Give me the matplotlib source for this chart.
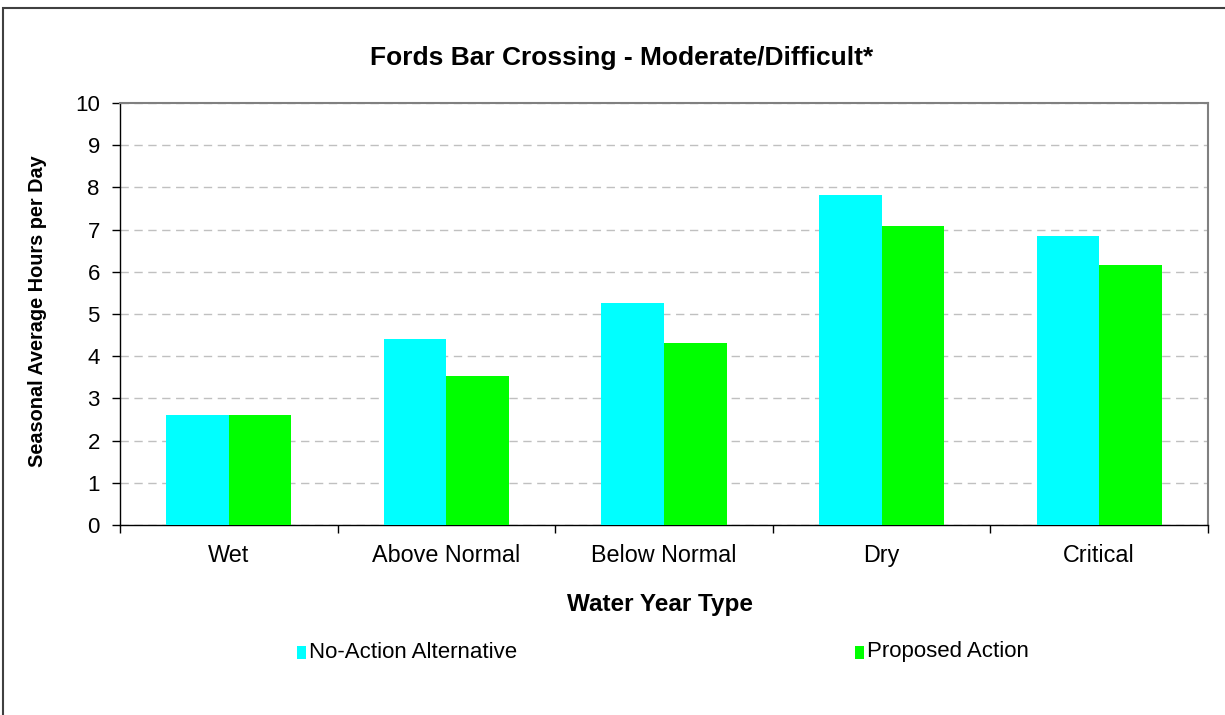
import matplotlib
matplotlib.use("Agg")
import matplotlib.pyplot as plt
import numpy as np
from matplotlib.patches import Rectangle

categories = ["Wet", "Above Normal", "Below Normal", "Dry", "Critical"]
no_action = [2.61, 4.41, 5.26, 7.82, 6.85]
proposed = [2.61, 3.53, 4.31, 7.08, 6.16]
series_names = ["No-Action Alternative", "Proposed Action"]
colors = ["#00FFFF", "#00FF00"]

plt.rcParams['font.family'] = ['Liberation Sans', 'DejaVu Sans']

W, H = 1225, 715
fig = plt.figure(figsize=(W / 100, H / 100), dpi=100)
ax = fig.add_axes([120 / W, 1 - 525 / H, (1208 - 120) / W, (525 - 103) / H])

x = np.arange(len(categories))
bw = 0.2875
ax.bar(x - bw / 2, no_action, bw, color=colors[0], label=series_names[0], zorder=3)
ax.bar(x + bw / 2, proposed, bw, color=colors[1], label=series_names[1], zorder=3)

ax.set_xlim(-0.5, len(categories) - 0.5)
ax.set_ylim(0, 10)
ax.set_yticks(range(0, 11))
ax.set_xticks(x)
ax.set_xticklabels(categories, fontsize=16.8)
ax.set_xticks(np.arange(-0.5, len(categories)), minor=True)
ax.tick_params(axis='x', which='major', length=0, pad=14)
ax.tick_params(axis='x', which='minor', length=6, width=1, direction='out')
ax.tick_params(axis='y', labelsize=16, length=6, width=1, direction='out', pad=8.5)

ax.yaxis.grid(True, linestyle=(0, (6, 4)), color='#c0c0c0', linewidth=1, zorder=0)
ax.set_axisbelow(True)
for s in ['left', 'bottom']:
    ax.spines[s].set_color('black')
    ax.spines[s].set_linewidth(1)
for s in ['top', 'right']:
    ax.spines[s].set_color('#808080')
    ax.spines[s].set_linewidth(1.5)

fig.text(622 / W, 1 - 58 / H, "Fords Bar Crossing - Moderate/Difficult*",
         ha='center', va='center', fontsize=19, fontweight='bold')
fig.text(38 / W, 1 - 311 / H, "Seasonal Average Hours per Day", rotation=90,
         ha='center', va='center', fontsize=14.3, fontweight='bold')
fig.text(660 / W, 1 - 604 / H, "Water Year Type",
         ha='center', va='center', fontsize=17.5, fontweight='bold')

# legend
leg_y = 1 - 652 / H
for xs, name, col in [(297, series_names[0], colors[0]), (855, series_names[1], colors[1])]:
    fig.patches.append(Rectangle((xs / W, 1 - 659 / H), 9 / W, 13 / H,
                                 transform=fig.transFigure, facecolor=col, edgecolor='none'))
    fig.text((xs + 12) / W, leg_y, name, ha='left', va='center', fontsize=16)

# outer border
fig.patches.append(Rectangle((3 / W, -0.1), 1.2, 1 - 8 / H + 0.1, transform=fig.transFigure,
                             facecolor='none', edgecolor='#404040', linewidth=1.5))

fig.savefig("out.png", dpi=100)
